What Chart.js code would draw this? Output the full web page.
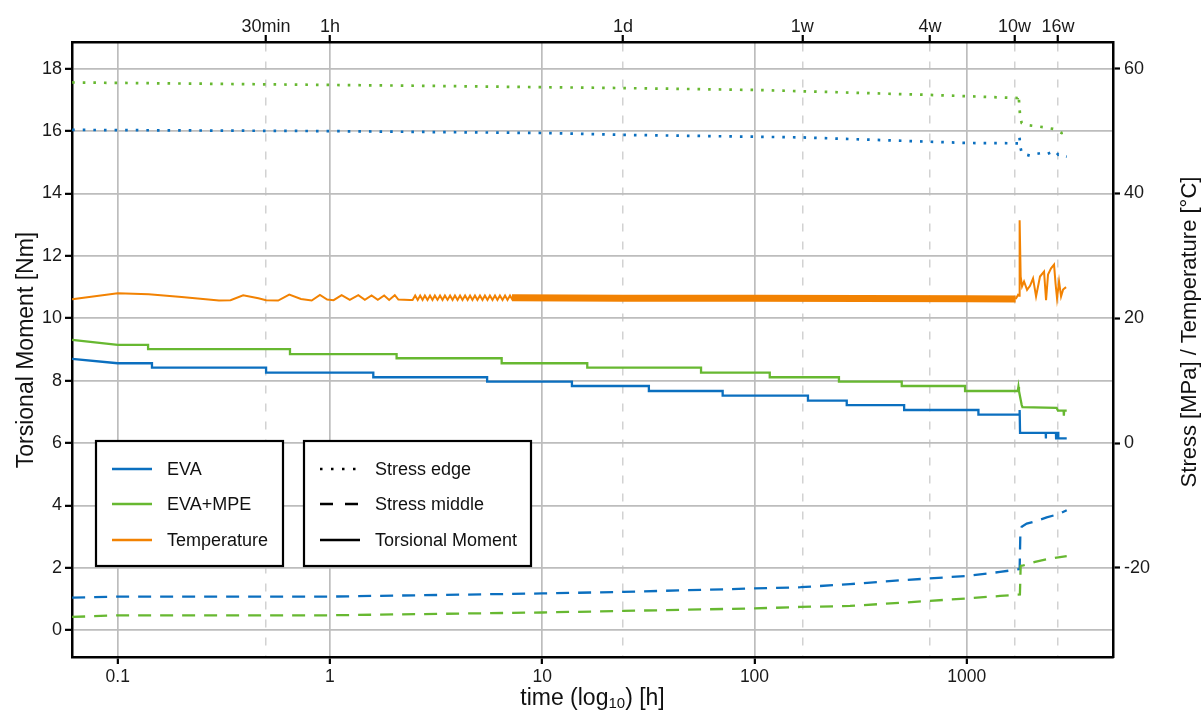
<!DOCTYPE html>
<html>
<head>
<meta charset="utf-8">
<script src="https://cdn.jsdelivr.net/npm/chart.js@4.4.1/dist/chart.umd.min.js"></script>
<style>
  body { margin: 0; background: #fff; }
  #wrap { width: 1203px; height: 712px; position: relative; }
</style>
</head>
<body>
<div id="wrap"><canvas id="torsionChart"></canvas></div>
<script>
// x axis ticks (hours, log scale)
const bottomTicks = [0.1, 1, 10, 100, 1000];
const bottomLabels = ['0.1', '1', '10', '100', '1000'];
const topTicks = [0.5, 1, 24, 168, 672, 1680, 2688];
const topLabels = ['30min', '1h', '1d', '1w', '4w', '10w', '16w'];
const leftTicks = [0, 2, 4, 6, 8, 10, 12, 14, 16, 18];
const rightTicks = [-20, 0, 20, 40, 60];

// Torsional moment [Nm] (left axis)
const tMomentEva = [0.061, 0.1, 0.145, 0.145, 0.5, 0.5, 1.6, 1.6, 5.5, 5.5, 13.8, 13.8, 31.8, 31.8, 70.8, 70.8,
  178.6, 178.6, 272, 272, 507, 507, 1135, 1135, 1765, 1775, 1783, 2356, 2358, 2362, 2632, 2636, 2645, 2700, 2700, 2958];
const momentEva = [8.70, 8.56, 8.56, 8.42, 8.42, 8.26, 8.26, 8.11, 8.11, 7.97, 7.97, 7.83, 7.83, 7.67, 7.67, 7.52,
  7.52, 7.36, 7.36, 7.22, 7.22, 7.06, 7.06, 6.91, 6.91, 7.06, 6.33, 6.33, 6.15, 6.33, 6.33, 6.15, 6.33, 6.33, 6.15, 6.15];

const tMomentMpe = [0.061, 0.1, 0.139, 0.139, 0.648, 0.648, 2.06, 2.06, 6.44, 6.44, 16.3, 16.3, 56, 56, 118, 118,
  250, 250, 494, 494, 982, 982, 1740, 1752, 1762, 1815, 1830, 2650, 2690, 2860, 2868, 2876, 2958];
const momentMpe = [9.31, 9.15, 9.15, 9.01, 9.01, 8.85, 8.85, 8.72, 8.72, 8.56, 8.56, 8.42, 8.42, 8.26, 8.26, 8.11,
  8.11, 7.97, 7.97, 7.83, 7.83, 7.67, 7.67, 7.80, 7.67, 7.22, 7.15, 7.13, 7.04, 7.04, 6.88, 7.04, 7.04];

// Temperature [°C] (right axis)
const tTempEarly = [0.061, 0.1, 0.14, 0.2, 0.3, 0.34, 0.39, 0.46, 0.5, 0.57, 0.643, 0.73, 0.82, 0.897, 0.97, 1.04,
  1.135, 1.24, 1.36, 1.46, 1.57, 1.68, 1.80, 1.9, 2.02, 2.1, 2.38, 2.45,
  2.52, 2.59, 2.66, 2.73, 2.80, 2.88, 2.96, 3.04, 3.12, 3.21, 3.30, 3.39, 3.48, 3.58, 3.68, 3.78, 3.88, 3.99,
  4.10, 4.21, 4.33, 4.45, 4.57, 4.69, 4.82, 4.95, 5.09, 5.23, 5.37, 5.52, 5.67, 5.83, 5.99, 6.15, 6.32, 6.50,
  6.68, 6.86, 7.05, 7.25];
const tempEarly = [23.05, 24.0, 23.85, 23.4, 22.85, 22.9, 23.7, 23.2, 22.9, 22.85, 23.8, 23.1, 22.85, 23.75, 23.0, 22.9,
  23.7, 22.95, 23.7, 22.95, 23.65, 22.95, 23.65, 22.95, 23.7, 23.0, 22.95, 22.95,
  23.65, 22.95, 23.65, 22.95, 23.65, 22.95, 23.65, 22.95, 23.65, 22.95, 23.65, 22.95, 23.65, 22.95, 23.65, 22.95, 23.65, 22.95,
  23.65, 22.95, 23.65, 22.95, 23.65, 22.95, 23.65, 22.95, 23.65, 22.95, 23.65, 22.95, 23.65, 22.95, 23.65, 22.95, 23.65, 22.95,
  23.65, 22.95, 23.65, 22.95];
const tTempBand = [7.2, 24, 100, 1000, 1700];
const tempBand = [23.3, 23.2, 23.2, 23.15, 23.1];
const tTempTail = [1700, 1745, 1765, 1775, 1795, 1822, 1862, 1924, 1987, 2053, 2121, 2214, 2313, 2364, 2415, 2496,
  2578, 2620, 2663, 2722, 2782, 2843, 2937];
const tempTail = [23.1, 23.75, 23.6, 35.7, 26.7, 25.1, 25.9, 24.55, 25.2, 26.4, 23.5, 26.7, 27.5, 22.9, 27.0, 28.0,
  28.6, 25.6, 23.2, 25.9, 23.5, 24.6, 25.0];

// Stress [MPa] (right axis)
const tEdgeEva = [0.061, 1, 10, 24, 100, 165, 672, 1000, 1750, 1770, 1796, 1815, 1880, 1987, 2096, 2214, 2380, 2540,
  2613, 2700, 2782, 2873, 2958];
const edgeEva = [50.2, 50.0, 49.7, 49.4, 49.1, 49.0, 48.3, 48.1, 48.05, 49.1, 47.2, 46.5, 46.3, 46.06, 46.3, 46.45, 46.3, 46.7,
  46.8, 46.2, 46.3, 46.0, 45.9];
const tEdgeMpe = [0.061, 1, 2.14, 24, 100, 165, 672, 1000, 1740, 1755, 1770, 1785, 1815, 1900, 2100, 2339, 2600, 2800, 2958];
const edgeMpe = [57.8, 57.4, 57.3, 56.9, 56.6, 56.4, 55.8, 55.6, 55.3, 55.8, 54.0, 52.3, 51.3, 51.0, 50.8, 50.6, 50.3, 49.7, 49.9];
const tMidEva = [0.061, 0.1, 1, 10, 24, 100, 165, 282, 484, 1000, 1436, 1775, 1790, 1815, 1917, 2137, 2380, 2700, 2958];
const midEva = [-24.76, -24.6, -24.6, -24.1, -23.85, -23.3, -23.1, -22.6, -22.0, -21.3, -20.65, -20.2, -13.96, -13.4,
  -12.9, -12.47, -11.9, -11.4, -10.76];
const tMidMpe = [0.061, 0.1, 1, 10, 24, 100, 165, 282, 484, 1000, 1436, 1780, 1795, 1850, 2100, 2400, 2700, 2958];
const midMpe = [-27.87, -27.6, -27.6, -27.15, -26.9, -26.5, -26.26, -26.1, -25.6, -24.9, -24.5, -24.27, -19.7, -19.6,
  -19.05, -18.6, -18.3, -18.1];

const BLUE = '#0b6fbf';
const GREEN = '#67b831';
const ORANGE = '#f28202';
const FONT = '"Liberation Sans", Arial, Helvetica, sans-serif';
const DOTTED = [2.6, 8];
const DASHED = [13, 9];

function pairs(t, v) {
    return t.map((x, i) => ({ x: x, y: v[i] }));
}

function line(t, v, color, axis, extra) {
    return Object.assign({
        data: pairs(t, v),
        borderColor: color,
        borderWidth: 2.3,
        pointRadius: 0,
        tension: 0,
        fill: false,
        yAxisID: axis,
        borderCapStyle: 'butt'
    }, extra || {});
}

const datasets = [
    line(tEdgeMpe, edgeMpe, GREEN, 'y2', { borderDash: DOTTED, borderWidth: 2.7 }),
    line(tEdgeEva, edgeEva, BLUE, 'y2', { borderDash: DOTTED, borderWidth: 2.7 }),
    line(tMidMpe, midMpe, GREEN, 'y2', { borderDash: DASHED }),
    line(tMidEva, midEva, BLUE, 'y2', { borderDash: DASHED }),
    line(tTempEarly, tempEarly, ORANGE, 'y2', { borderWidth: 2 }),
    line(tTempBand, tempBand, ORANGE, 'y2', { borderWidth: 7 }),
    line(tTempTail, tempTail, ORANGE, 'y2', { borderWidth: 2 }),
    line(tMomentMpe, momentMpe, GREEN, 'y'),
    line(tMomentEva, momentEva, BLUE, 'y')
];

const tickFont = { family: FONT, size: 18 };
const bottomFont = { family: FONT, size: 17.5 };
const axisBorder = { color: '#000', width: 2.5 };

function setTicks(values) {
    return function (scale) {
        scale.ticks = values.map(v => ({ value: v }));
    };
}

// axis titles and the two legend boxes
const overlay = {
    id: 'overlay',
    afterDatasetsDraw(chart) {
        const ctx = chart.ctx;
        ctx.save();
        const boxes = [
            { x: 96, w: 187, items: [
                { label: 'EVA', color: BLUE, dash: [] },
                { label: 'EVA+MPE', color: GREEN, dash: [] },
                { label: 'Temperature', color: ORANGE, dash: [] }
            ] },
            { x: 304, w: 227, items: [
                { label: 'Stress edge', color: '#000', dash: [2.5, 8.5] },
                { label: 'Stress middle', color: '#000', dash: [13, 12] },
                { label: 'Torsional Moment', color: '#000', dash: [] }
            ] }
        ];
        const rows = [469, 504, 540];
        boxes.forEach(b => {
            ctx.fillStyle = '#fff';
            ctx.fillRect(b.x, 441, b.w, 125);
            ctx.strokeStyle = '#000';
            ctx.lineWidth = 2.2;
            ctx.setLineDash([]);
            ctx.strokeRect(b.x, 441, b.w, 125);
            b.items.forEach((it, i) => {
                ctx.beginPath();
                ctx.setLineDash(it.dash);
                ctx.lineCap = 'butt';
                ctx.strokeStyle = it.color;
                ctx.lineWidth = 2.4;
                ctx.moveTo(b.x + 16, rows[i]);
                ctx.lineTo(b.x + 56, rows[i]);
                ctx.stroke();
                ctx.setLineDash([]);
                ctx.fillStyle = '#111';
                ctx.font = '18px ' + FONT;
                ctx.textAlign = 'left';
                ctx.textBaseline = 'middle';
                ctx.fillText(it.label, b.x + 71, rows[i] + 1);
            });
        });
        ctx.restore();
    },
    afterDraw(chart) {
        const ctx = chart.ctx;
        ctx.save();
        ctx.fillStyle = '#111';
        ctx.textBaseline = 'middle';
        ctx.textAlign = 'center';

        ctx.save();
        ctx.font = '23px ' + FONT;
        ctx.translate(27, 350);
        ctx.rotate(-Math.PI / 2);
        ctx.fillText('Torsional Moment [Nm]', 0, 0);
        ctx.restore();

        ctx.save();
        ctx.font = '22px ' + FONT;
        ctx.translate(1190, 332);
        ctx.rotate(-Math.PI / 2);
        ctx.fillText('Stress [MPa] / Temperature [°C]', 0, 0);
        ctx.restore();

        // bottom title with subscript
        const partA = 'time (log', sub = '10', partB = ') [h]';
        ctx.font = '23px ' + FONT;
        const wA = ctx.measureText(partA).width;
        const wB = ctx.measureText(partB).width;
        ctx.font = '15px ' + FONT;
        const wS = ctx.measureText(sub).width;
        let x = 592.5 - (wA + wS + wB) / 2;
        const y = 699;
        ctx.textAlign = 'left';
        ctx.font = '23px ' + FONT;
        ctx.fillText(partA, x, y);
        x += wA;
        ctx.font = '15px ' + FONT;
        ctx.fillText(sub, x, y + 5);
        x += wS;
        ctx.font = '23px ' + FONT;
        ctx.fillText(partB, x, y);
        ctx.restore();
    }
};

new Chart(document.getElementById('torsionChart').getContext('2d'), {
    type: 'line',
    data: { datasets: datasets },
    plugins: [overlay],
    options: {
        responsive: true,
        maintainAspectRatio: false,
        animation: false,
        layout: { padding: 0 },
        plugins: {
            legend: { display: false },
            tooltip: { enabled: false }
        },
        scales: {
            x: {
                type: 'logarithmic',
                position: 'bottom',
                min: 0.0609,
                max: 4887,
                afterBuildTicks: setTicks(bottomTicks),
                afterFit: s => { s.height = 55; },
                ticks: {
                    font: bottomFont, color: '#1a1a1a', padding: 3, maxRotation: 0, autoSkip: false,
                    callback: (v, i) => bottomLabels[i]
                },
                grid: { color: '#bdbdbd', lineWidth: 1.7, tickColor: '#000', tickWidth: 2.2, tickLength: 7, tickBorderDash: [] },
                border: axisBorder
            },
            x2: {
                type: 'logarithmic',
                position: 'top',
                min: 0.0609,
                max: 4887,
                afterBuildTicks: setTicks(topTicks),
                afterFit: s => { s.height = 42; },
                ticks: {
                    font: tickFont, color: '#1a1a1a', padding: -3, maxRotation: 0, autoSkip: false,
                    callback: (v, i) => topLabels[i]
                },
                grid: {
                    color: c => (c.tick && c.tick.value === 1) ? 'rgba(0,0,0,0)' : '#d2d2d2',
                    lineWidth: 1.5, tickColor: '#000', tickWidth: 2.2, tickLength: 7, tickBorderDash: []
                },
                border: { color: '#000', width: 2.5, dash: [8, 10] }
            },
            y: {
                type: 'linear',
                position: 'left',
                min: -0.857,
                max: 18.857,
                afterBuildTicks: setTicks(leftTicks),
                afterFit: s => { s.width = 72; },
                ticks: { font: tickFont, color: '#1a1a1a', padding: 3 },
                grid: { color: '#bdbdbd', lineWidth: 1.7, tickColor: '#000', tickWidth: 2.2, tickLength: 7 },
                border: axisBorder
            },
            y2: {
                type: 'linear',
                position: 'right',
                min: -34.285,
                max: 64.285,
                afterBuildTicks: setTicks(rightTicks),
                afterFit: s => { s.width = 90; },
                ticks: { font: tickFont, color: '#1a1a1a', padding: 4 },
                grid: { drawOnChartArea: false, tickColor: '#000', tickWidth: 2.2, tickLength: 7 },
                border: axisBorder
            }
        }
    }
});
</script>
</body>
</html>
